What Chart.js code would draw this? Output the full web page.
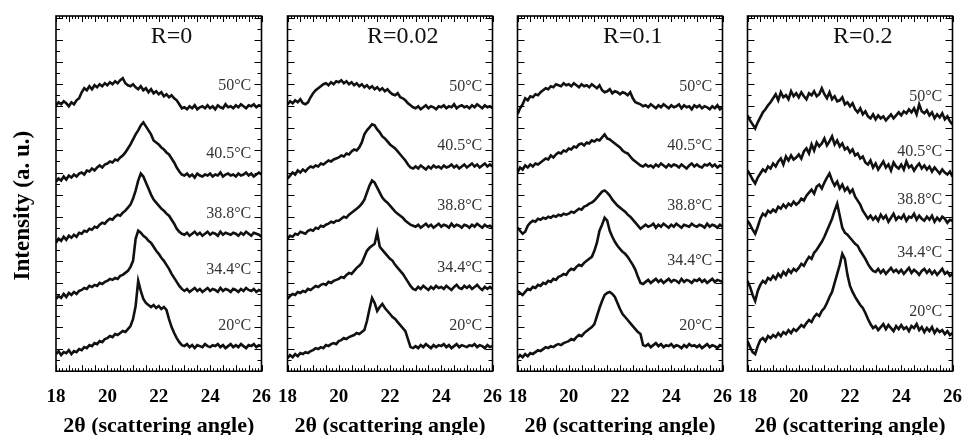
<!DOCTYPE html>
<html>
<head>
<meta charset="utf-8">
<script src="https://cdn.jsdelivr.net/npm/chart.js@4.4.1/dist/chart.umd.min.js"></script>
<style>
  html, body { margin: 0; padding: 0; background: #fff; overflow: hidden; }
  #wrap { position: relative; width: 966px; height: 435px; overflow: hidden; }
  #wrap canvas { position: absolute; top: 0; }
</style>
</head>
<body>
<div id="wrap">
  <canvas id="c0" width="285" height="437" style="left:0px"></canvas>
  <canvas id="c1" width="252" height="437" style="left:264px"></canvas>
  <canvas id="c2" width="252" height="437" style="left:494px"></canvas>
  <canvas id="c3" width="252" height="437" style="left:724px"></canvas>
</div>
<script>
// 2theta values shared by every trace
const angles = [
  18.0, 18.1, 18.2, 18.3, 18.4, 18.5, 18.6, 18.7, 18.8, 18.9,
  19.0, 19.1, 19.2, 19.3, 19.4, 19.5, 19.6, 19.7, 19.8, 19.9,
  20.0, 20.1, 20.2, 20.3, 20.4, 20.5, 20.6, 20.7, 20.8, 20.9,
  21.0, 21.1, 21.2, 21.3, 21.4, 21.5, 21.6, 21.7, 21.8, 21.9,
  22.0, 22.1, 22.2, 22.3, 22.4, 22.5, 22.6, 22.7, 22.8, 22.9,
  23.0, 23.1, 23.2, 23.3, 23.4, 23.5, 23.6, 23.7, 23.8, 23.9,
  24.0, 24.1, 24.2, 24.3, 24.4, 24.5, 24.6, 24.7, 24.8, 24.9,
  25.0, 25.1, 25.2, 25.3, 25.4, 25.5, 25.6, 25.7, 25.8, 25.9,
  26.0
];

const panels = ["R=0", "R=0.02", "R=0.1", "R=0.2"];
const temps = ["50°C", "40.5°C", "38.8°C", "34.4°C", "20°C"];
const xTicks = [18, 20, 22, 24, 26];

// intensities (a. u., traces already stacked)
// R=0
const r0_50 = [
  265,268,266,269,267,264,268,266,270,272,
  278,282,280,284,281,285,283,286,284,287,
  285,288,286,289,287,290,292,287,285,284,
  286,283,281,284,280,282,278,281,277,279,
  276,278,274,276,273,275,272,270,266,262,
  263,261,264,262,265,261,263,264,262,265,
  262,264,261,265,263,262,266,263,264,262,
  265,263,266,264,262,265,264,266,263,265,
  264];
const r0_40 = [
  189,192,190,194,191,195,193,196,194,197,
  198,196,200,199,202,200,203,205,203,206,
  207,209,208,211,210,213,215,218,222,226,
  231,236,240,245,248,244,240,236,230,228,
  226,223,221,218,216,212,208,203,199,196,
  195,197,194,196,193,197,195,194,196,195,
  197,194,196,195,198,194,196,197,195,196,
  194,197,195,196,198,195,197,194,196,198,
  196];
const r0_38 = [
  128,132,130,134,131,135,133,136,134,138,
  137,140,139,142,141,144,143,146,148,147,
  150,152,151,154,156,155,158,160,163,166,
  172,180,190,197,194,188,182,176,171,168,
  165,162,160,157,155,151,147,142,139,137,
  136,138,135,137,139,136,138,135,137,139,
  136,138,137,135,139,136,138,137,136,138,
  137,135,138,136,139,137,135,138,137,136,
  134];
const r0_34 = [
  72,75,73,77,74,78,76,79,77,80,
  81,83,82,85,84,86,85,88,87,89,
  90,92,91,93,92,95,96,98,100,104,
  110,132,140,138,135,133,130,128,124,120,
  117,113,110,106,102,97,93,89,85,82,
  80,82,79,81,83,80,82,79,81,83,
  80,82,81,79,83,80,82,81,79,82,
  81,79,82,80,83,81,80,82,79,81,
  80];
const r0_20 = [
  17,20,16,19,18,21,17,20,19,22,
  21,24,23,26,25,28,27,30,29,32,
  33,35,34,37,36,38,40,39,42,45,
  52,65,90,80,72,68,66,64,66,63,
  65,62,64,61,52,44,38,33,29,26,
  25,27,24,26,23,26,25,24,27,25,
  24,26,25,27,24,26,23,25,27,24,
  26,24,27,25,23,26,25,27,24,26,
  25];

// R=0.02
const r1_50 = [
  266,269,267,270,268,271,267,266,268,273,
  277,280,282,284,286,287,285,288,286,289,
  288,290,287,289,286,288,285,287,284,286,
  283,285,282,284,281,283,280,282,279,281,
  278,276,275,277,273,272,270,267,265,263,
  262,264,261,263,265,262,264,263,261,264,
  263,265,262,264,263,266,262,264,265,263,
  264,262,265,263,266,264,262,265,263,264,
  262];
const r1_40 = [
  192,195,198,196,200,198,201,199,202,204,
  203,205,204,207,206,208,210,209,211,212,
  213,215,214,217,216,219,221,220,223,228,
  236,240,243,246,245,241,238,234,232,229,
  226,224,222,219,216,213,210,206,203,202,
  204,202,205,203,201,204,202,205,203,204,
  202,205,203,204,206,203,205,202,204,206,
  203,205,207,204,206,203,205,207,204,206,
  204];
const r1_38 = [
  132,135,134,137,136,139,138,137,140,141,
  140,143,142,145,144,146,147,149,148,150,
  150,152,154,153,156,158,160,162,164,167,
  171,178,185,190,188,183,178,173,170,168,
  165,162,159,157,155,153,150,148,146,145,
  144,146,143,145,147,144,146,143,145,147,
  144,146,145,143,147,144,146,145,143,146,
  145,143,146,144,147,145,143,146,144,145,
  143];
const r1_34 = [
  72,75,77,76,79,78,80,79,82,81,
  83,85,84,86,87,86,89,88,90,91,
  92,94,93,96,98,97,100,103,105,108,
  114,120,123,125,127,138,124,121,118,115,
  112,110,106,103,100,97,93,89,85,82,
  81,84,82,85,83,81,84,82,85,83,
  84,82,85,83,81,84,86,83,82,85,
  83,85,82,84,86,83,81,84,82,84,
  82];
const r1_20 = [
  13,16,14,17,15,18,17,19,18,20,
  21,23,22,24,23,26,25,27,28,27,
  30,31,33,32,34,35,36,38,37,39,
  41,50,62,73,68,60,64,67,63,60,
  57,54,52,49,46,43,40,32,24,23,
  25,23,26,24,27,25,23,26,24,26,
  25,27,24,26,23,25,27,24,26,25,
  24,26,25,27,24,26,25,23,26,24,
  25];

// R=0.1
const r2_50 = [
  256,262,266,272,270,274,273,276,275,278,
  280,282,281,284,283,286,285,284,287,285,
  286,284,287,285,283,286,284,285,283,286,
  284,282,285,280,278,279,281,277,279,278,
  276,278,277,275,278,272,268,267,266,264,
  265,263,266,264,262,265,263,266,264,262,
  265,263,264,266,262,265,263,264,261,265,
  263,265,262,264,263,261,264,262,265,261,
  263];
const r2_40 = [
  198,203,201,205,203,206,204,207,206,208,
  210,212,211,215,213,216,218,217,220,219,
  222,221,224,223,226,227,225,228,227,230,
  229,231,230,233,236,232,231,229,227,225,
  223,220,218,217,214,211,209,207,205,204,
  206,204,205,203,206,204,207,205,203,206,
  204,206,205,203,206,204,202,205,207,204,
  206,204,203,206,205,207,204,206,203,205,
  204];
const r2_38 = [
  143,140,137,139,145,148,150,149,152,151,
  153,152,154,153,155,154,156,155,157,156,
  157,159,158,160,162,161,164,165,167,168,
  170,173,176,179,180,178,175,171,168,165,
  163,161,159,156,154,151,148,145,142,144,
  146,144,145,147,143,146,144,147,145,143,
  146,144,147,145,143,146,145,144,147,145,
  144,146,145,143,147,144,146,145,143,146,
  144];
const r2_34 = [
  80,78,76,79,82,81,84,83,86,85,
  88,87,90,89,92,91,94,95,97,96,
  100,102,101,104,106,105,108,110,112,114,
  120,128,140,146,153,150,140,134,129,125,
  122,119,117,114,110,106,101,94,88,87,
  89,91,88,90,92,89,91,88,90,92,
  89,91,90,88,92,89,91,90,88,91,
  90,92,89,91,88,90,92,89,91,90,
  89];
const r2_20 = [
  13,16,14,17,15,18,17,19,21,20,
  22,24,23,25,24,26,27,26,28,29,
  30,32,31,34,36,35,38,40,42,44,
  47,55,63,70,76,78,79,77,74,68,
  62,57,54,51,48,45,42,39,37,26,
  25,27,24,26,28,25,27,24,26,25,
  27,24,26,25,23,26,24,27,25,26,
  24,26,23,25,27,24,26,25,23,26,
  25];

// R=0.2
const r3_50 = [
  255,250,246,242,248,253,258,261,265,268,
  272,276,270,278,273,275,271,279,274,277,
  273,278,274,271,277,275,279,274,276,282,
  276,272,278,271,274,269,270,273,266,268,
  264,267,261,258,262,256,259,254,252,256,
  251,255,252,254,250,253,256,252,255,258,
  255,259,257,261,258,262,256,266,259,257,
  260,255,258,252,256,253,257,251,254,249,
  246];
const r3_40 = [
  200,196,191,187,193,197,201,199,204,202,
  207,204,209,212,206,214,210,215,211,213,
  216,212,219,222,217,226,220,228,224,227,
  232,225,229,234,226,230,224,227,221,223,
  218,221,215,217,212,214,208,206,210,203,
  207,201,205,209,203,206,200,208,204,202,
  206,201,209,203,205,200,204,207,202,205,
  201,204,199,203,200,197,201,198,196,199,
  194];
const r3_38 = [
  150,146,141,137,144,152,157,155,160,158,
  161,159,164,162,166,163,167,165,169,166,
  168,172,170,175,178,181,177,184,186,182,
  188,193,197,190,185,189,182,186,180,183,
  178,181,174,170,166,160,156,152,155,151,
  154,150,156,152,155,149,153,157,151,154,
  152,156,150,154,153,157,151,155,152,150,
  154,151,155,149,153,150,154,152,148,151,
  150];
const r3_34 = [
  90,84,76,70,80,86,90,88,93,91,
  95,92,97,94,99,96,101,98,102,100,
  103,107,105,110,114,112,118,121,125,129,
  134,140,146,152,160,167,155,143,138,136,
  133,130,127,125,120,116,112,107,103,100,
  99,102,98,101,97,100,103,99,101,98,
  101,97,100,103,98,101,99,96,100,102,
  98,101,97,100,96,99,102,97,99,95,
  97];
const r3_20 = [
  30,24,19,17,25,31,33,30,35,33,
  36,34,38,35,39,37,41,38,42,40,
  43,46,44,48,51,49,54,57,55,60,
  63,68,74,79,88,97,106,117,112,96,
  85,79,74,70,66,63,58,52,47,43,
  45,41,44,47,42,46,43,40,45,42,
  46,42,44,40,45,43,47,41,44,39,
  43,40,44,38,42,39,41,37,40,36,
  38];

const panelSeries = [
  [r0_50, r0_40, r0_38, r0_34, r0_20],
  [r1_50, r1_40, r1_38, r1_34, r1_20],
  [r2_50, r2_40, r2_38, r2_34, r2_20],
  [r3_50, r3_40, r3_38, r3_34, r3_20]
];

const serif = '"Liberation Serif", "DejaVu Serif", serif';
Chart.defaults.font.family = serif;
Chart.defaults.color = "#000";

// box around the plot with inward ticks on all four sides
const frameTicks = {
  id: "frameTicks",
  afterDatasetsDraw(chart) {
    const { ctx, chartArea: a, scales: { x, y } } = chart;
    ctx.save();
    ctx.strokeStyle = "#000";
    ctx.lineWidth = 1;
    ctx.beginPath();
    for (let v = 18; v <= 26.001; v += 0.125) {
      const px = Math.round(x.getPixelForValue(v)) + 0.5;
      const major = Math.abs(v * 2 - Math.round(v * 2)) < 1e-6;
      const len = major ? 6 : 3;
      ctx.moveTo(px, a.bottom);
      ctx.lineTo(px, a.bottom - len);
      ctx.moveTo(px, a.top);
      ctx.lineTo(px, a.top + len);
    }
    for (let v = 0; v <= 354; v += 11) {
      const py = Math.round(y.getPixelForValue(v)) + 0.5;
      const len = v % 22 == 0 ? 7 : 4;
      ctx.moveTo(a.left, py);
      ctx.lineTo(a.left + len, py);
      ctx.moveTo(a.right, py);
      ctx.lineTo(a.right - len, py);
    }
    ctx.stroke();
    ctx.lineWidth = 1.6;
    ctx.strokeRect(a.left, a.top, a.width, a.height);
    ctx.restore();
  }
};

// panel title, temperature labels and (first panel) the y axis title
const panelText = {
  id: "panelText",
  afterDatasetsDraw(chart, args, opts) {
    const { ctx, chartArea: a, scales: { x, y } } = chart;
    ctx.save();
    ctx.fillStyle = "#111";
    ctx.font = "24px " + serif;
    ctx.textAlign = "center";
    ctx.textBaseline = "middle";
    ctx.fillText(opts.title, x.getPixelForValue(22.5), y.getPixelForValue(333));
    ctx.font = "16px " + serif;
    ctx.fillStyle = "#333";
    ctx.textAlign = "right";
    chart.data.datasets.forEach((ds) => {
      const tail = ds.data.slice(-10);
      const level = tail.reduce((s, p) => s + p.y, 0) / tail.length + 20;
      ctx.fillText(ds.label, x.getPixelForValue(25.6), y.getPixelForValue(level));
    });
    if (opts.yTitle) {
      ctx.fillStyle = "#000";
      ctx.font = "bold 23px " + serif;
      ctx.textAlign = "center";
      ctx.translate(a.left - 33, y.getPixelForValue(165));
      ctx.rotate(-Math.PI / 2);
      ctx.fillText(opts.yTitle, 0, 0);
    }
    ctx.restore();
  }
};

function makePanel(idx) {
  const first = idx == 0;
  const datasets = panelSeries[idx].map((vals, j) => ({
    label: temps[j],
    data: angles.map((a, i) => ({ x: a, y: vals[i] })),
    borderColor: "#111",
    borderWidth: 2.6,
    pointRadius: 0,
    tension: 0,
    fill: false
  }));
  new Chart(document.getElementById("c" + idx), {
    type: "line",
    data: { datasets: datasets },
    plugins: [frameTicks, panelText],
    options: {
      responsive: false,
      animation: false,
      layout: { padding: { top: 16, bottom: 0, left: 0, right: 0 } },
      plugins: {
        legend: { display: false },
        tooltip: { enabled: false },
        panelText: { title: panels[idx], yTitle: first ? "Intensity (a. u.)" : "" }
      },
      scales: {
        x: {
          type: "linear",
          min: 18,
          max: 26,
          afterBuildTicks: (s) => { s.ticks = xTicks.map((v) => ({ value: v })); },
          ticks: { font: { size: 19, weight: "bold" }, color: "#000", padding: 14, maxRotation: 0 },
          grid: { display: false, drawTicks: false },
          border: { display: false },
          title: {
            display: true,
            text: "2θ (scattering angle)",
            font: { size: 22, weight: "bold", lineHeight: 1 },
            color: "#000",
            padding: { top: -7, bottom: 0 }
          }
        },
        y: {
          display: first,
          min: 0,
          max: 354,
          ticks: { display: false },
          grid: { display: false, drawTicks: false },
          border: { display: false },
          afterFit: first ? (s) => { s.width = 56; } : undefined
        }
      }
    }
  });
}

for (let i = 0; i < panels.length; i++) makePanel(i);
</script>
</body>
</html>
